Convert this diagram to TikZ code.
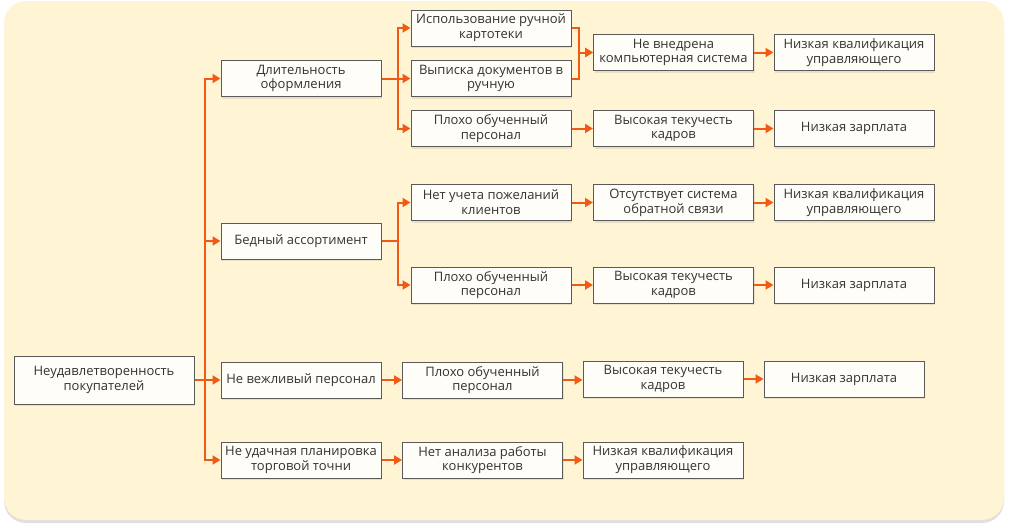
\documentclass[tikz,border=0pt]{standalone}
\usepackage{fontspec}
\setmainfont{Open Sans}
\usetikzlibrary{arrows.meta,shadows}
\definecolor{bg}{HTML}{FFF4D4}
\definecolor{arr}{HTML}{F05A14}
\definecolor{bx}{HTML}{FFFDF8}
\definecolor{bd}{HTML}{5A5A5A}
\definecolor{tx}{HTML}{333333}
\begin{document}
\begin{tikzpicture}[x=1pt,y=-1pt,
  box/.style={draw=bd, line width=1pt, fill=bx, minimum width=160pt, minimum height=36pt,
    inner sep=1pt, align=center, text=tx, font=\fontsize{13}{14.8}\selectfont,
    drop shadow={opacity=0.18, shadow xshift=1pt, shadow yshift=-2pt}},
  con/.style={draw=arr, line width=2pt, -{Triangle[length=8pt,width=9pt]}}]
\useasboundingbox (0,0) rectangle (1010,530);
\fill[white] (0,0) rectangle (1010,530);
\fill[bg, rounded corners=22pt, drop shadow={opacity=0.25, shadow xshift=0pt, shadow yshift=-3pt}] (4,1) rectangle (1004,520);

\node[box, minimum width=180pt, minimum height=48pt] (root) at (104,380) {Неудавлетворенность\\покупателей};

\node[box] (d1) at (301,78.5) {Длительность\\оформления};
\node[box] (d2) at (301,241) {Бедный ассортимент};
\node[box] (d3) at (301,380) {Не вежливый персонал};
\node[box] (d4) at (301,460) {Не удачная планировка\\торговой точни};

\node[box] (a1) at (491,28) {Использование ручной\\картотеки};
\node[box] (a2) at (491,78.5) {Выписка документов в\\ручную};
\node[box] (a3) at (491,128.5) {Плохо обученный\\персонал};
\node[box] (b1) at (673.5,52.5) {Не внедрена\\компьютерная система};
\node[box] (b3) at (673.5,128.5) {Высокая текучесть\\кадров};
\node[box] (c1) at (854,52.5) {Низкая квалификация\\управляющего};
\node[box] (c3) at (854,128.5) {Низкая зарплата};

\node[box] (e1) at (491,202.5) {Нет учета пожеланий\\клиентов};
\node[box] (f1) at (673.5,202.5) {Отсутствует система\\обратной связи};
\node[box] (g1) at (854,202.5) {Низкая квалификация\\управляющего};
\node[box] (e2) at (491,285) {Плохо обученный\\персонал};
\node[box] (f2) at (673.5,285) {Высокая текучесть\\кадров};
\node[box] (g2) at (854,285) {Низкая зарплата};

\node[box] (h1) at (482.5,380) {Плохо обученный\\персонал};
\node[box] (h2) at (663,379) {Высокая текучесть\\кадров};
\node[box] (h3) at (844,379) {Низкая зарплата};

\node[box] (i1) at (482.5,460) {Нет анализа работы\\конкурентов};
\node[box] (i2) at (663,460) {Низкая квалификация\\управляющего};

% trunk
\coordinate (t) at (205,380);
\draw[con] (root.east) -- (t) |- (d1.west);
\draw[con] (root.east) -- (t) |- (d2.west);
\draw[con] (root.east) -- (d3.west);
\draw[con] (root.east) -- (t) |- (d4.west);

% group 1
\draw[con] (d1.east) -- ++(16,0) |- (a1.west);
\draw[con] (d1.east) -- (a2.west);
\draw[con] (d1.east) -- ++(16,0) |- (a3.west);
\draw[con] (a1.east) -- ++(7,0) |- (b1.west);
\draw[con] (a2.east) -- ++(7,0) |- (b1.west);
\draw[con] (b1) -- (c1);
\draw[con] (a3) -- (b3);
\draw[con] (b3) -- (c3);

% group 2
\draw[con] (d2.east) -- ++(16,0) |- (e1.west);
\draw[con] (d2.east) -- ++(16,0) |- (e2.west);
\draw[con] (e1) -- (f1);
\draw[con] (f1) -- (g1);
\draw[con] (e2) -- (f2);
\draw[con] (f2) -- (g2);

% group 3
\draw[con] (d3) -- (h1);
\draw[con] (h1.east) -- (h2.west |- h1.east);
\draw[con] (h2) -- (h3);

% group 4
\draw[con] (d4) -- (i1);
\draw[con] (i1) -- (i2);
\end{tikzpicture}
\end{document}
